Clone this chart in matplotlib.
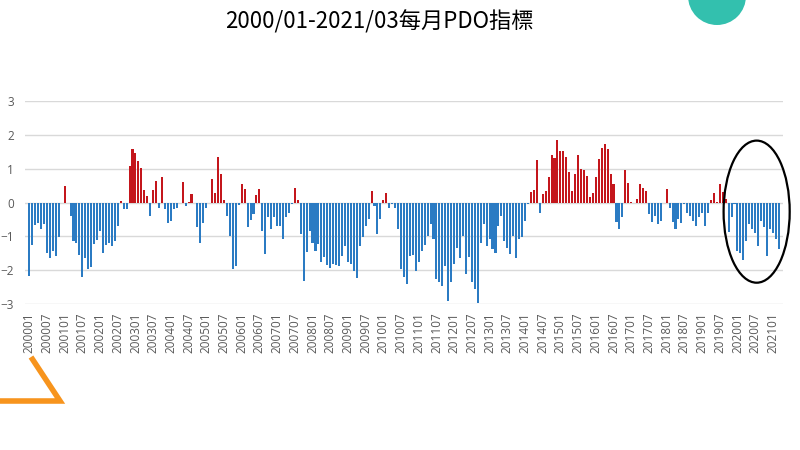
import matplotlib.pyplot as plt
from matplotlib.patches import Ellipse
from matplotlib.lines import Line2D
import numpy as np

plt.rcParams['font.family'] = ['Noto Sans CJK TC', 'DejaVu Sans']

title = '2000/01-2021/03每月PDO指標'

# monthly PDO index
pdo_2000 = [-2.17, -1.25, -0.66, -0.62, -0.79, -0.64, -1.48, -1.65, -1.43, -1.58, -1.02, -0.02]
pdo_2001 = [0.50, -0.02, -0.40, -1.13, -1.21, -1.55, -2.20, -1.65, -1.97, -1.90, -1.23, -1.10]
pdo_2002 = [-0.84, -1.48, -1.25, -1.21, -1.28, -1.13, -0.69, 0.05, -0.20, -0.20, 1.08, 1.58]
pdo_2003 = [1.45, 1.23, 1.01, 0.36, 0.20, -0.40, 0.36, 0.64, -0.15, 0.74, -0.20, -0.60]
pdo_2004 = [-0.55, -0.20, -0.15, 0.00, 0.61, -0.10, 0.03, 0.25, 0.00, -0.71, -1.20, -0.62]
pdo_2005 = [-0.15, 0.00, 0.71, 0.28, 1.36, 0.84, 0.07, -0.40, -0.99, -1.97, -1.87, -0.08]
pdo_2006 = [0.54, 0.39, -0.72, -0.52, -0.35, 0.22, 0.39, -0.84, -1.53, -0.44, -0.79, -0.44]
pdo_2007 = [-0.69, -0.69, -1.08, -0.44, -0.30, -0.05, 0.42, 0.07, -0.94, -2.32, -1.45, -0.84]
pdo_2008 = [-1.20, -1.43, -1.23, -1.77, -1.60, -1.84, -1.94, -1.82, -1.84, -1.87, -1.58, -1.28]
pdo_2009 = [-1.77, -1.82, -2.02, -2.22, -1.28, -1.03, -0.69, -0.49, 0.33, -0.10, -0.92, -0.49]
pdo_2010 = [0.07, 0.27, -0.15, -0.05, -0.15, -0.79, -1.97, -2.20, -2.42, -1.58, -1.55, -2.02]
pdo_2011 = [-1.77, -1.43, -1.25, -0.99, -0.64, -1.08, -2.27, -2.36, -2.46, -1.87, -2.90, -2.36]
pdo_2012 = [-1.82, -1.33, -1.63, -0.99, -2.10, -1.60, -2.36, -2.56, -2.96, -1.21, -0.64, -1.28]
pdo_2013 = [-1.08, -1.38, -1.48, -0.69, -0.40, -1.13, -1.33, -1.53, -0.99, -1.65, -1.08, -1.03]
pdo_2014 = [-0.54, -0.05, 0.30, 0.36, 1.25, -0.30, 0.25, 0.33, 0.74, 1.41, 1.33, 1.84]
pdo_2015 = [1.51, 1.51, 1.35, 0.89, 0.33, 0.84, 1.41, 0.99, 0.96, 0.79, 0.15, 0.28]
pdo_2016 = [0.74, 1.30, 1.60, 1.72, 1.58, 0.84, 0.56, -0.59, -0.79, -0.44, 0.96, 0.59]
pdo_2017 = [0.02, 0.00, 0.10, 0.56, 0.42, 0.34, -0.35, -0.59, -0.40, -0.64, -0.54, 0.00]
pdo_2018 = [0.39, -0.15, -0.59, -0.79, -0.49, -0.62, -0.05, -0.30, -0.40, -0.55, -0.69, -0.44]
pdo_2019 = [-0.30, -0.69, -0.30, 0.07, 0.27, 0.02, 0.54, 0.30, 0.10, -0.86, -0.44, -0.05]
pdo_2020 = [-1.43, -1.48, -1.70, -1.13, -0.64, -0.79, -0.89, -1.28, -0.54, -0.72, -1.58, -0.79]
pdo_2021 = [-0.89, -1.08, -1.38]

pdo = (pdo_2000 + pdo_2001 + pdo_2002 + pdo_2003 + pdo_2004 + pdo_2005 + pdo_2006
       + pdo_2007 + pdo_2008 + pdo_2009 + pdo_2010 + pdo_2011 + pdo_2012 + pdo_2013
       + pdo_2014 + pdo_2015 + pdo_2016 + pdo_2017 + pdo_2018 + pdo_2019 + pdo_2020
       + pdo_2021)

months = [f'{y}{m:02d}' for y in range(2000, 2022) for m in range(1, 13)][:len(pdo)]
tick_labels = months[::6]

x = np.arange(len(pdo))
colors = ['#C4161C' if v > 0 else '#2B7BC3' for v in pdo]

fig = plt.figure(figsize=(8, 4.5), dpi=100)
ax = fig.add_axes([0.031, 0.3244, 0.948, 0.4511])

ax.bar(x, pdo, width=0.7, color=colors, zorder=2)

ax.set_xlim(-1.5, 255.5)
ax.set_ylim(-3, 3)
ax.set_yticks(range(-3, 4))
ax.yaxis.grid(True, color='#D9D9D9', lw=1, zorder=0)
ax.set_axisbelow(True)
for s in ax.spines.values():
    s.set_visible(False)

ax.set_xticks(x[::6])
ax.set_xticklabels(tick_labels, rotation=90, fontsize=8.5, color='#595959',
                   family=['Open Sans', 'DejaVu Sans'])
for lab in ax.get_yticklabels():
    lab.set_family(['Open Sans', 'DejaVu Sans'])
ax.tick_params(axis='x', length=0, pad=6)
ax.tick_params(axis='y', length=0, pad=8, labelsize=8.5, labelcolor='#595959')

# circle drawn round the recent months
ax.add_patch(Ellipse((246.5, -0.27), width=22.4, height=4.2, fill=False,
                     edgecolor='black', lw=1.6, clip_on=False, zorder=3))

fig.text(0.474, 1 - 22 / 450, title, ha='center', va='center', fontsize=16)

# decorations from the slide
fig.add_artist(Ellipse((717 / 800, 1 + 4 / 450), width=58 / 800, height=58 / 450,
                       transform=fig.transFigure, color='#33C0AE', lw=0))
fig.add_artist(Line2D([0, 60 / 800, 31 / 800], [1 - 401 / 450, 1 - 401 / 450, 1 - 357 / 450],
                      transform=fig.transFigure, color='#F7941D', lw=4,
                      solid_joinstyle='miter', solid_capstyle='butt'))

fig.savefig('out.png', dpi=100)
